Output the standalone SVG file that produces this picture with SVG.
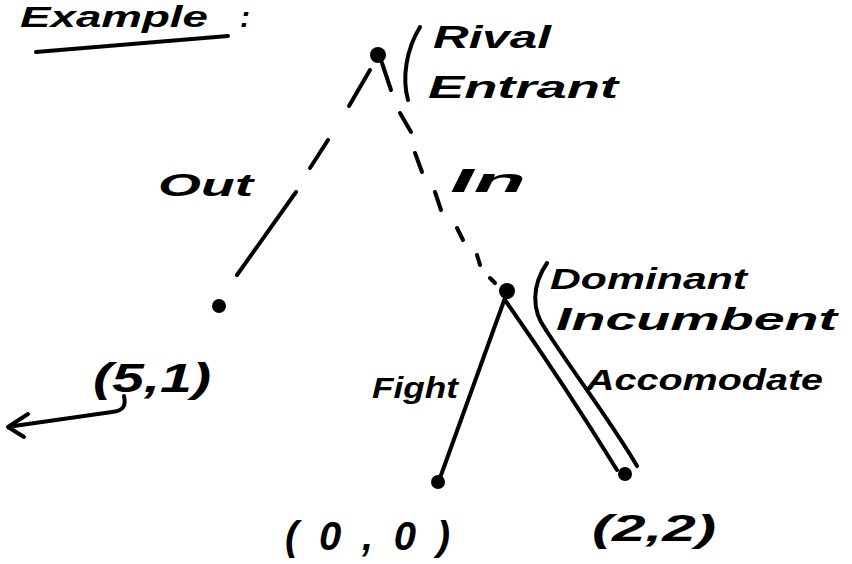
<svg xmlns="http://www.w3.org/2000/svg" width="852" height="564" viewBox="0 0 852 564">
<style>
.t{font-family:"Liberation Sans",Arial,sans-serif;font-weight:bold;font-style:italic;fill:#000}
.e{fill:none;stroke:#000;stroke-width:4;stroke-linecap:round;stroke-linejoin:round}
.n{fill:#000}
</style>
<rect width="852" height="564" fill="#fff"/>
<g id="title">
<text class="t" x="20" y="27" font-size="30" textLength="188" lengthAdjust="spacingAndGlyphs">Example</text>
<text class="t" x="240" y="27" font-size="30">:</text>
<path class="e" d="M36,52 L228,36" stroke-width="5"/>
</g>
<g id="connectors">
<g id="out">
<path class="e" d="M370,70 L349,106"/>
<path class="e" d="M328,140 L310,168"/>
<path class="e" d="M296,192 L237,275"/>
</g>
<g id="in">
<path class="e" d="M382,63 L391,90"/>
<path class="e" d="M400,113 L411,132" stroke-width="3.5"/>
<path class="e" d="M415,153 L422,172" stroke-width="3.5"/>
<path class="e" d="M435,192 L441,210" stroke-width="3.5"/>
<path class="e" d="M457,228 L463,240" stroke-width="3.5"/>
<path class="e" d="M477,255 L480,265" stroke-width="3.5"/>
<path class="e" d="M490,278 L495,283" stroke-width="3.5"/>
</g>
<path id="fight" class="e" d="M505,298 L440,478"/>
<path id="acc1" class="e" d="M505,300 C540,350 580,410 617,470"/>
<path id="acc2" class="e" d="M546,330 C575,375 610,420 637,466"/>
<path id="arrow" class="e" d="M124,396 C126,405 124,411 112,412 L14,426"/>
<path id="arrowhead" class="e" d="M28,414 L8,427 L24,437"/>
</g>
<g id="root">
<circle class="n" cx="378" cy="55" r="8"/>
<path class="e" d="M420,27 C406,50 402,78 408,100"/>
<text class="t" x="433" y="48" font-size="32" textLength="118" lengthAdjust="spacingAndGlyphs">Rival</text>
<text class="t" x="428" y="98" font-size="32" textLength="190" lengthAdjust="spacingAndGlyphs">Entrant</text>
</g>
<g id="outLabel"><text class="t" x="158" y="196" font-size="32" textLength="95" lengthAdjust="spacingAndGlyphs">Out</text></g>
<g id="inLabel"><text class="t" x="450" y="192" font-size="34" textLength="76" lengthAdjust="spacingAndGlyphs">In</text></g>
<g id="leaf51">
<circle class="n" cx="219" cy="306" r="7"/>
<text class="t" x="93" y="392" font-size="40" textLength="118" lengthAdjust="spacingAndGlyphs">(5,1)</text>
</g>
<g id="incumbent">
<circle class="n" cx="507" cy="291" r="8"/>
<path class="e" d="M547,263 C532,285 531,310 546,330"/>
<text class="t" x="550" y="289" font-size="30" textLength="197" lengthAdjust="spacingAndGlyphs">Dominant</text>
<text class="t" x="556" y="330" font-size="32" textLength="281" lengthAdjust="spacingAndGlyphs">Incumbent</text>
</g>
<g id="fightLabel"><text class="t" x="372" y="398" font-size="30" textLength="86" lengthAdjust="spacingAndGlyphs">Fight</text></g>
<g id="accLabel"><text class="t" x="586" y="390" font-size="30" textLength="237" lengthAdjust="spacingAndGlyphs">Accomodate</text></g>
<g id="leaf00">
<circle class="n" cx="438" cy="482" r="7"/>
<text class="t" x="285" y="550" font-size="40" textLength="165" lengthAdjust="spacing">(0,0)</text>
</g>
<g id="leaf22">
<circle class="n" cx="625" cy="474" r="7"/>
<text class="t" x="592" y="541" font-size="36" textLength="124" lengthAdjust="spacingAndGlyphs">(2,2)</text>
</g>
</svg>
